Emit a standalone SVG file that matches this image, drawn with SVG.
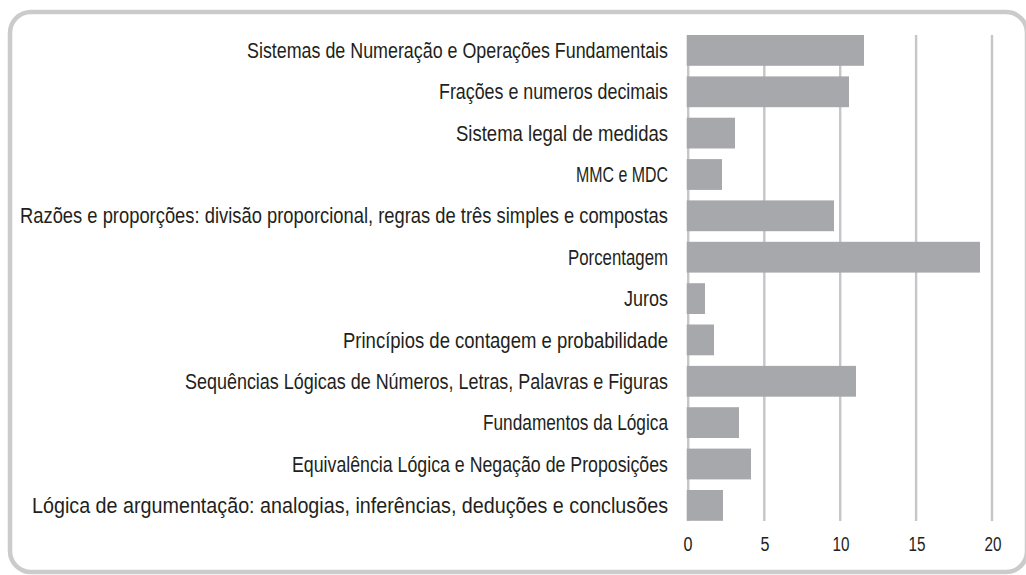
<svg xmlns="http://www.w3.org/2000/svg" width="1026" height="575" viewBox="0 0 1026 575">
<style>
.frame{fill:#ffffff;stroke:#cbcbcc;stroke-width:4.5}
.grid{stroke:#c6c6ca;stroke-width:2.4}
.bar{fill:#a7a8ab}
.lbl{font-family:"Liberation Sans",Arial,sans-serif;font-size:21.5px;fill:#231f20;text-anchor:end}
.tick{font-family:"Liberation Sans",Arial,sans-serif;font-size:20px;fill:#231f20;text-anchor:middle}
</style>
<rect class="frame" x="10" y="12" width="1017" height="560" rx="21" ry="21"/>
<g id="grid">
<line class="grid" x1="688.2" y1="35" x2="688.2" y2="521"/>
<line class="grid" x1="764.3" y1="35" x2="764.3" y2="521"/>
<line class="grid" x1="840.2" y1="35" x2="840.2" y2="521"/>
<line class="grid" x1="916.1" y1="35" x2="916.1" y2="521"/>
<line class="grid" x1="992" y1="35" x2="992" y2="521"/>
</g>
<g id="bars">
<rect class="bar" x="686.7" y="35" width="177.3" height="30.8"/>
<rect class="bar" x="686.7" y="76.4" width="162.3" height="30.8"/>
<rect class="bar" x="686.7" y="117.7" width="48.3" height="30.8"/>
<rect class="bar" x="686.7" y="159.1" width="35.3" height="30.8"/>
<rect class="bar" x="686.7" y="200.4" width="147.3" height="30.8"/>
<rect class="bar" x="686.7" y="241.8" width="293.3" height="30.8"/>
<rect class="bar" x="686.7" y="283.2" width="18.3" height="30.8"/>
<rect class="bar" x="686.7" y="324.5" width="27.3" height="30.8"/>
<rect class="bar" x="686.7" y="365.9" width="169.3" height="30.8"/>
<rect class="bar" x="686.7" y="407.2" width="52.3" height="30.8"/>
<rect class="bar" x="686.7" y="448.6" width="64.3" height="30.8"/>
<rect class="bar" x="686.7" y="490" width="36.3" height="30.8"/>
</g>
<g id="labels">
<text class="lbl" x="668" y="58" textLength="421" lengthAdjust="spacingAndGlyphs">Sistemas de Numeração e Operações Fundamentais</text>
<text class="lbl" x="668" y="99.4" textLength="229" lengthAdjust="spacingAndGlyphs">Frações e numeros decimais</text>
<text class="lbl" x="668" y="140.7" textLength="212" lengthAdjust="spacingAndGlyphs">Sistema legal de medidas</text>
<text class="lbl" x="668" y="182.1" textLength="92" lengthAdjust="spacingAndGlyphs">MMC e MDC</text>
<text class="lbl" x="668" y="223.4" textLength="648" lengthAdjust="spacingAndGlyphs">Razões e proporções: divisão proporcional, regras de três simples e compostas</text>
<text class="lbl" x="668" y="264.8" textLength="100" lengthAdjust="spacingAndGlyphs">Porcentagem</text>
<text class="lbl" x="668" y="306.2" textLength="44" lengthAdjust="spacingAndGlyphs">Juros</text>
<text class="lbl" x="668" y="347.5" textLength="325" lengthAdjust="spacingAndGlyphs">Princípios de contagem e probabilidade</text>
<text class="lbl" x="668" y="388.9" textLength="483" lengthAdjust="spacingAndGlyphs">Sequências Lógicas de Números, Letras, Palavras e Figuras</text>
<text class="lbl" x="668" y="430.2" textLength="185" lengthAdjust="spacingAndGlyphs">Fundamentos da Lógica</text>
<text class="lbl" x="668" y="471.6" textLength="376" lengthAdjust="spacingAndGlyphs">Equivalência Lógica e Negação de Proposições</text>
<text class="lbl" x="668" y="513" textLength="636" lengthAdjust="spacingAndGlyphs">Lógica de argumentação: analogias, inferências, deduções e conclusões</text>
</g>
<g id="axis">
<text class="tick" x="688" y="551" textLength="9" lengthAdjust="spacingAndGlyphs">0</text>
<text class="tick" x="765" y="551" textLength="9" lengthAdjust="spacingAndGlyphs">5</text>
<text class="tick" x="841" y="551" textLength="17" lengthAdjust="spacingAndGlyphs">10</text>
<text class="tick" x="917" y="551" textLength="17" lengthAdjust="spacingAndGlyphs">15</text>
<text class="tick" x="993" y="551" textLength="17" lengthAdjust="spacingAndGlyphs">20</text>
</g>
</svg>
